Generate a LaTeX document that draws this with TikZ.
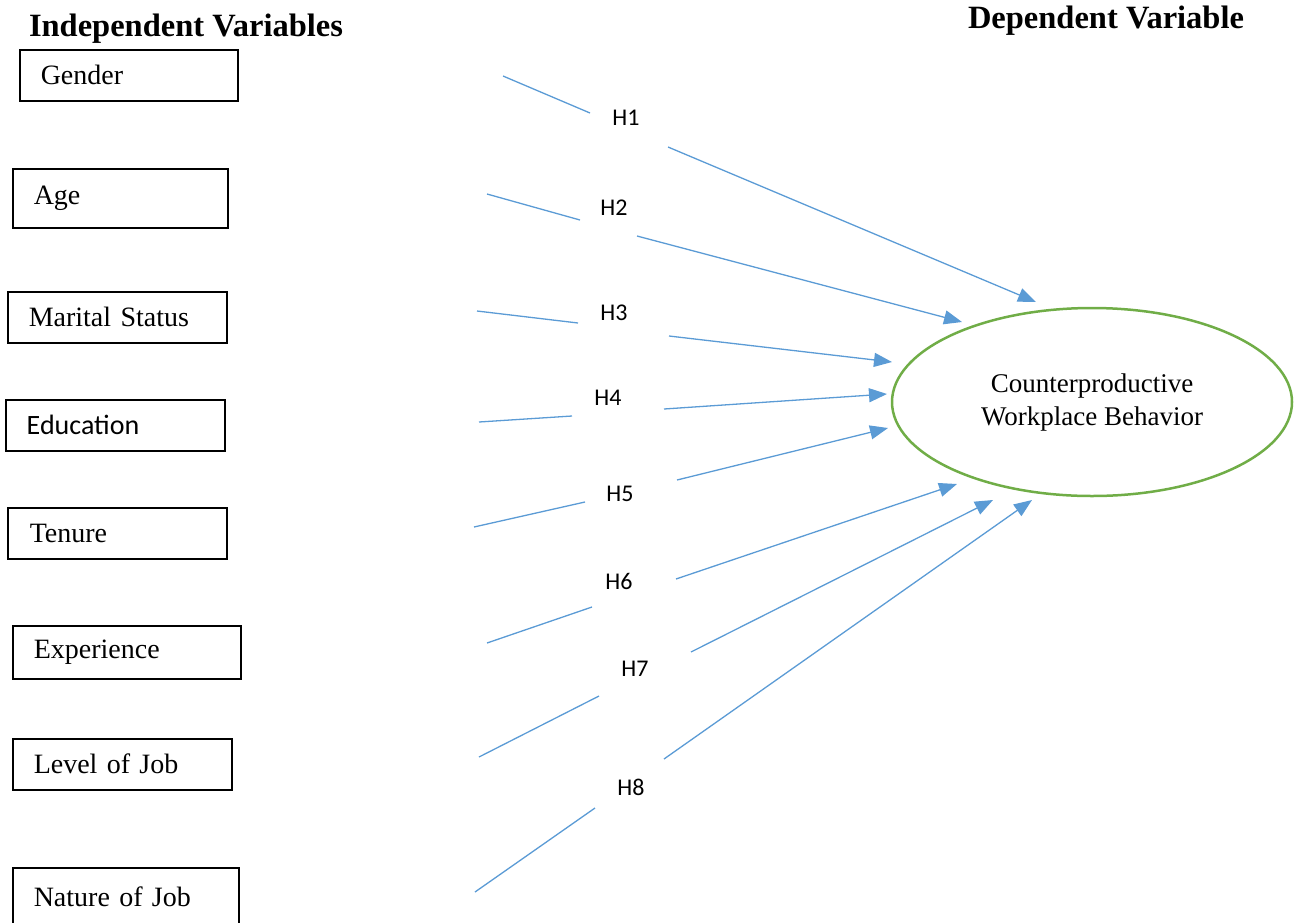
\documentclass[tikz,border=0pt]{standalone}
\usepackage{fontspec}
\setmainfont{Liberation Serif}
\newfontfamily\calibri{Carlito}
\usetikzlibrary{arrows.meta,shapes.geometric}
\definecolor{linkblue}{RGB}{91,155,213}
\definecolor{cwbgreen}{RGB}{112,173,71}
\tikzset{
  ivbox/.style={draw=black, line width=1.5pt, anchor=north west, minimum height=51pt,
    inner xsep=21pt, inner ysep=0pt, align=left, font=\fontsize{28}{32}\selectfont},
  hlabel/.style={font=\calibri\fontsize{24}{28}\selectfont, inner sep=0pt},
  link/.style={draw=linkblue, line width=1.3pt},
  linkarrow/.style={link, -{Triangle[length=18pt,width=14pt]}},
  titletext/.style={font=\bfseries\fontsize{32.5}{38}\selectfont, inner sep=0pt},
  dvellipse/.style={ellipse, draw=cwbgreen, line width=2.5pt, minimum width=400pt,
    minimum height=188pt, align=center, font=\fontsize{27}{33}\selectfont}
}
\begin{document}
\begin{tikzpicture}[x=1pt,y=-1pt]
\useasboundingbox (0,0) rectangle (1299,922);
% titles
\node[titletext] (ivtitle) at (186,29) {Independent Variables};
\node[titletext] (dvtitle) at (1106,21) {Dependent Variable};
% independent variable boxes
\node[ivbox, text width=176pt] (gender) at (19,49) {Gender};
\node[ivbox, text width=173pt, minimum height=59pt] (age) at (12,168) {Age};
\node[ivbox, text width=177pt] (marital) at (7,291) {Marital Status};
\node[ivbox, text width=177pt, inner xsep=21pt, font=\calibri\fontsize{28}{32}\selectfont] (education) at (5,399) {Education};
\node[ivbox, text width=175pt, inner xsep=22pt] (tenure) at (7,507) {Tenure};
\node[ivbox, text width=186pt, minimum height=53pt] (experience) at (12,625) {Experience};
\node[ivbox, text width=177pt] (level) at (12,738) {Level of Job};
\node[ivbox, text width=184pt, minimum height=58pt] (nature) at (12,867) {Nature of Job};
% dependent variable
\node[dvellipse] (cwb) at (1092,402) {Counterproductive\\Workplace Behavior};
% hypothesis labels
\node[hlabel] (h1) at (626,118) {H1};
\node[hlabel] (h2) at (614,208) {H2};
\node[hlabel] (h3) at (614,313) {H3};
\node[hlabel] (h4) at (608,398) {H4};
\node[hlabel] (h5) at (620,494) {H5};
\node[hlabel] (h6) at (619,581) {H6};
\node[hlabel] (h7) at (635,669) {H7};
\node[hlabel] (h8) at (631,787) {H8};
% connector coordinates
\coordinate (s1) at (503,76);  \coordinate (a1) at (590,113); \coordinate (b1) at (668,147); \coordinate (t1) at (1036,302);
\coordinate (s2) at (487,194); \coordinate (a2) at (580,220); \coordinate (b2) at (637,236); \coordinate (t2) at (962,322);
\coordinate (s3) at (477,311); \coordinate (a3) at (578,323); \coordinate (b3) at (669,336); \coordinate (t3) at (892,362);
\coordinate (s4) at (479,422); \coordinate (a4) at (572,416); \coordinate (b4) at (664,409); \coordinate (t4) at (887,394);
\coordinate (s5) at (474,527); \coordinate (a5) at (585,502); \coordinate (b5) at (677,480); \coordinate (t5) at (888,428);
\coordinate (s6) at (487,643); \coordinate (a6) at (592,607); \coordinate (b6) at (676,579); \coordinate (t6) at (957,484);
\coordinate (s7) at (479,757); \coordinate (a7) at (599,696); \coordinate (b7) at (691,652); \coordinate (t7) at (993,500);
\coordinate (s8) at (475,892); \coordinate (a8) at (595,808); \coordinate (b8) at (664,759); \coordinate (t8) at (1032,500);
% connectors
\foreach \i in {1,...,8}{
  \draw[link] (s\i) -- (a\i);
  \draw[linkarrow] (b\i) -- (t\i);
}
\end{tikzpicture}
\end{document}
